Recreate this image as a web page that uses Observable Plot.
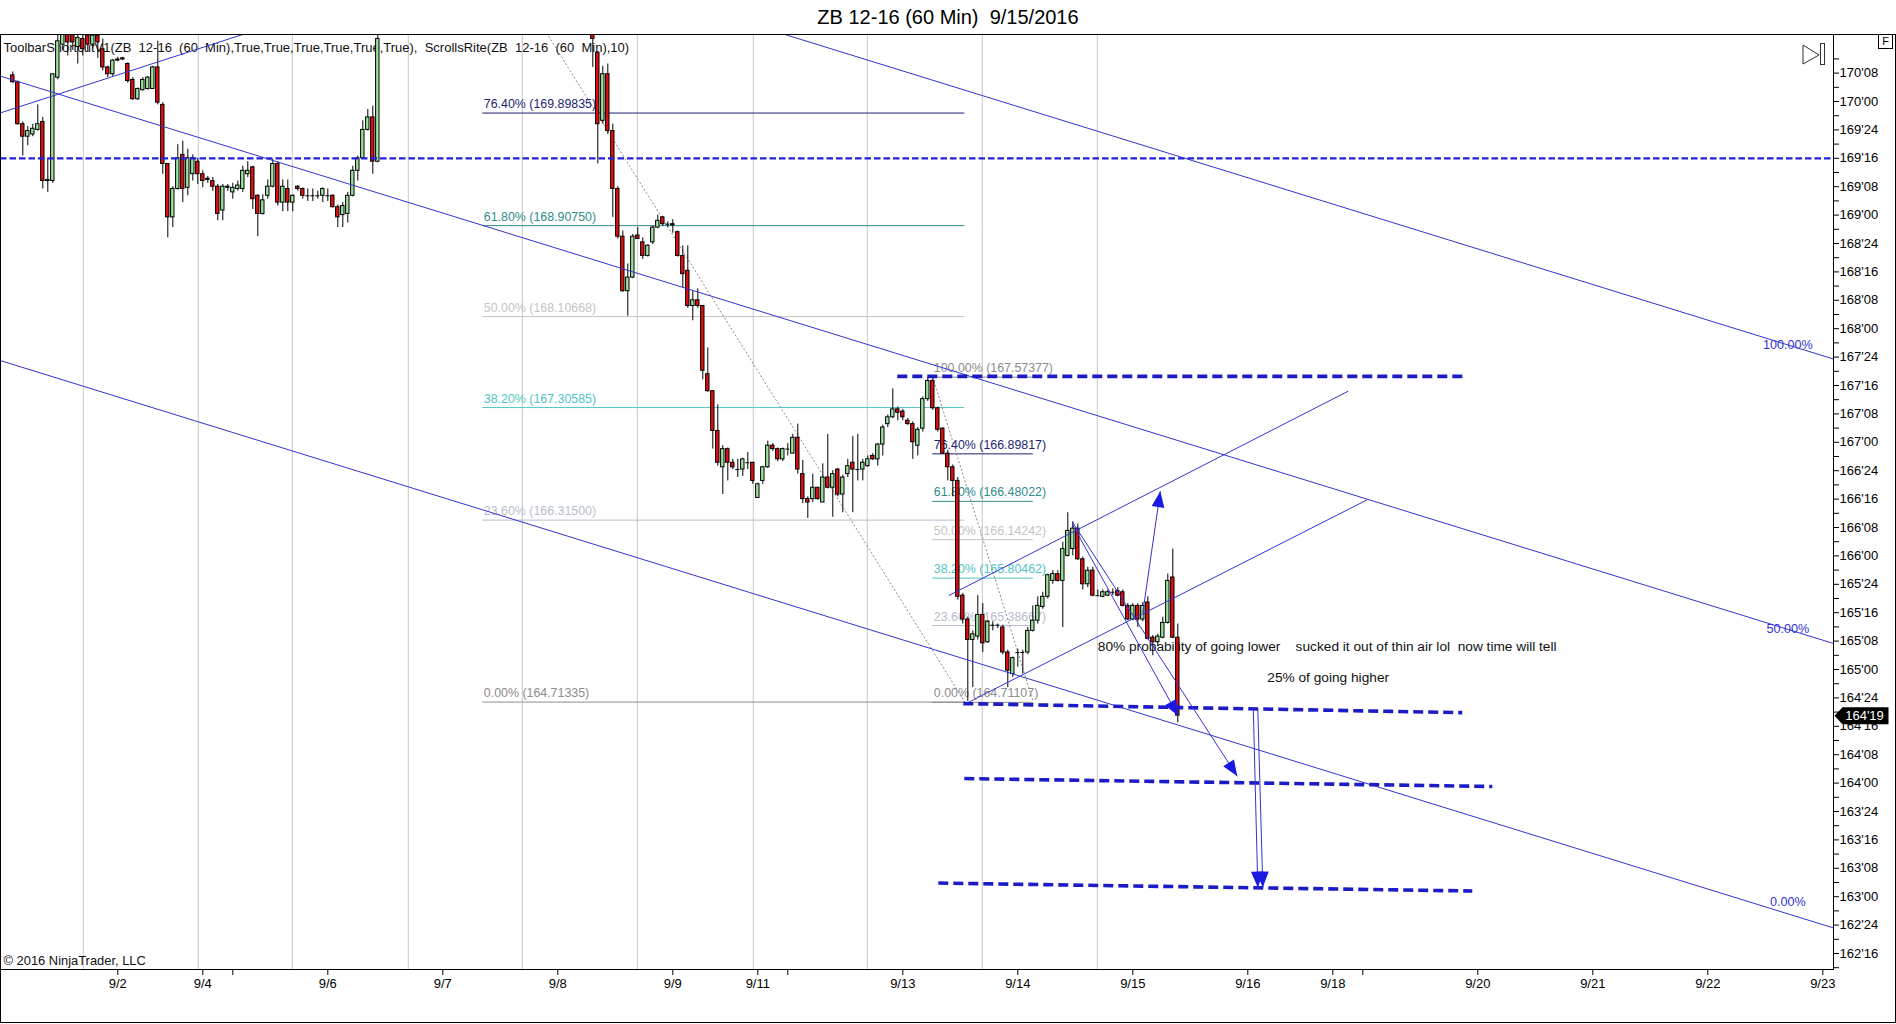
<!DOCTYPE html>
<html>
<head>
<meta charset="utf-8">
<script src="https://cdn.jsdelivr.net/npm/d3@7"></script>
<script src="https://cdn.jsdelivr.net/npm/@observablehq/plot@0.6"></script>
<style>
html, body { margin: 0; padding: 0; background: #fff; }
body { width: 1896px; height: 1024px; position: relative; overflow: hidden; font-family: "Liberation Sans", Arial, sans-serif; }
#title { position: absolute; left: 0; top: 0; width: 1896px; height: 33px; line-height: 34px; text-align: center; font-size: 20px; color: #000; white-space: pre; }
#chart { position: absolute; left: 0; top: 33px; }
#chart svg text { white-space: pre; }
#outer { position: absolute; left: 0; top: 34px; width: 1896px; height: 989px; border: 1px solid #000; box-sizing: border-box; pointer-events: none; }
#nav { position: absolute; left: 1800px; top: 42px; }
#fbox { position: absolute; left: 1878px; top: 34px; width: 15px; height: 15px; border: 1px solid #000; box-sizing: border-box; font-size: 11px; line-height: 13px; text-align: center; background: #fff; }
</style>
</head>
<body>
<div id="title">ZB 12-16 (60 Min)  9/15/2016</div>
<div id="chart"></div>
<div id="outer"></div>
<svg id="nav" width="28" height="26"><path d="M3,3 L19,13 L3,22 Z" fill="none" stroke="#333"/><rect x="20.5" y="1.5" width="4" height="21" fill="none" stroke="#333"/></svg>
<div id="fbox">F</div>
<script>
// ---- 60-minute bars, ZB 12-16 (bar number on the session axis) ----
const barIndex = [...d3.range(0, 74), ...d3.range(116, 234)];

const opens = [
  170.23, 170.17, 169.80, 169.69, 169.71, 169.75, 169.82, 169.30, 169.30, 170.21,
  170.50, 170.62, 170.60, 170.48, 170.55, 170.58, 170.50, 170.58, 170.46, 170.30,
  170.24, 170.37, 170.38, 170.33, 170.19, 170.02, 170.10, 170.11, 170.11, 170.30,
  169.97, 169.45, 168.98, 169.23, 169.53, 169.24, 169.36, 169.47, 169.36, 169.32,
  169.30, 169.25, 169.04, 169.24, 169.20, 169.23, 169.23, 169.36, 169.42, 169.17,
  169.01, 169.17, 169.25, 169.45, 169.11, 169.23, 169.11, 169.25, 169.23, 169.17,
  169.17, 169.17, 169.17, 169.17, 169.17, 169.07, 169.00, 169.01, 169.17, 169.39,
  169.50, 169.75, 169.86, 169.47,
  170.75, 170.43, 169.83, 170.24, 169.74, 169.23, 168.81, 168.33, 168.45, 168.82,
  168.76, 168.64, 168.76, 168.89, 168.98, 168.92, 168.92, 168.85, 168.64, 168.51,
  168.20, 168.25, 168.20, 167.60, 167.45, 167.10, 166.78, 166.94, 166.82, 166.76,
  166.76, 166.82, 166.82, 166.51, 166.66, 166.78, 166.97, 166.94, 166.85, 166.94,
  166.90, 167.04, 166.72, 166.50, 166.50, 166.60, 166.47, 166.69, 166.60, 166.76,
  166.54, 166.72, 166.82, 166.76, 166.76, 166.79, 166.88, 166.85, 166.98, 167.16,
  167.22, 167.29, 167.27, 167.19, 167.16, 166.97, 167.12, 167.38, 167.54, 167.30,
  167.12, 166.90, 166.78, 166.66, 165.65, 165.44, 165.26, 165.29, 165.48, 165.24,
  165.39, 165.39, 165.37, 165.15, 164.96, 165.15, 165.15, 165.15, 165.34, 165.43,
  165.55, 165.64, 165.78, 165.84, 165.78, 166.00, 166.06, 166.24, 165.97, 165.75,
  165.87, 165.65, 165.64, 165.65, 165.68, 165.69, 165.68, 165.56, 165.44, 165.56,
  165.44, 165.59, 165.28, 165.24, 165.28, 165.41, 165.81, 165.28
];
const highs = [
  170.26, 170.18, 169.82, 169.78, 169.80, 169.97, 169.86, 169.50, 170.24, 170.62,
  170.70, 170.70, 170.68, 170.64, 170.62, 170.66, 170.66, 170.66, 170.55, 170.31,
  170.37, 170.39, 170.39, 170.34, 170.21, 170.12, 170.21, 170.22, 170.31, 170.53,
  169.99, 169.45, 169.25, 169.62, 169.65, 169.58, 169.53, 169.50, 169.39, 169.34,
  169.33, 169.27, 169.27, 169.27, 169.28, 169.30, 169.43, 169.47, 169.43, 169.18,
  169.18, 169.31, 169.49, 169.47, 169.31, 169.31, 169.18, 169.26, 169.24, 169.23,
  169.23, 169.21, 169.24, 169.23, 169.18, 169.09, 169.11, 169.20, 169.43, 169.52,
  169.83, 169.93, 169.96, 170.62,
  170.80, 170.44, 170.31, 170.33, 169.80, 169.25, 168.86, 168.57, 168.83, 168.89,
  168.80, 168.74, 168.90, 169.00, 168.99, 168.94, 168.96, 168.86, 168.73, 168.73,
  168.33, 168.35, 168.20, 167.83, 167.45, 167.33, 166.97, 166.95, 166.85, 166.85,
  166.86, 166.91, 166.82, 166.64, 166.79, 167.01, 166.99, 166.95, 166.95, 166.99,
  167.07, 167.16, 166.84, 166.52, 166.72, 166.60, 166.81, 167.07, 166.75, 166.77,
  166.71, 166.85, 167.05, 167.07, 166.85, 166.88, 166.90, 166.99, 167.15, 167.24,
  167.47, 167.31, 167.29, 167.21, 167.18, 167.13, 167.40, 167.57, 167.56, 167.31,
  167.13, 166.93, 166.80, 166.69, 165.67, 165.46, 165.34, 165.65, 165.58, 165.43,
  165.42, 165.40, 165.39, 165.17, 165.11, 165.18, 165.17, 165.37, 165.56, 165.64,
  165.68, 165.84, 165.87, 165.87, 166.12, 166.38, 166.30, 166.28, 165.99, 165.90,
  165.90, 165.70, 165.70, 165.70, 165.71, 165.72, 165.70, 165.58, 165.58, 165.58,
  165.59, 165.64, 165.30, 165.31, 165.46, 165.84, 166.06, 165.40
];
const lows = [
  170.16, 169.79, 169.52, 169.61, 169.69, 169.74, 169.23, 169.20, 169.28, 170.19,
  170.45, 170.40, 170.45, 170.33, 170.40, 170.44, 170.46, 170.38, 170.27, 170.21,
  170.22, 170.35, 170.36, 170.16, 170.01, 170.01, 170.09, 170.10, 170.11, 169.97,
  169.36, 168.80, 168.89, 169.22, 169.11, 169.17, 169.30, 169.27, 169.24, 169.28,
  169.21, 168.95, 168.95, 169.21, 169.14, 169.21, 169.20, 169.33, 169.05, 168.81,
  169.00, 169.14, 169.24, 169.08, 169.03, 169.03, 169.03, 169.21, 169.14, 169.12,
  169.12, 169.14, 169.11, 169.12, 169.06, 168.89, 168.89, 168.93, 169.16, 169.30,
  169.49, 169.74, 169.36, 169.46,
  170.30, 169.45, 169.80, 169.71, 168.98, 168.79, 168.32, 168.11, 168.44, 168.79,
  168.61, 168.63, 168.74, 168.88, 168.90, 168.89, 168.84, 168.63, 168.36, 168.18,
  168.07, 168.18, 167.55, 167.44, 166.94, 166.79, 166.54, 166.66, 166.76, 166.69,
  166.70, 166.76, 166.63, 166.51, 166.63, 166.77, 166.92, 166.83, 166.83, 166.88,
  166.90, 166.72, 166.46, 166.33, 166.47, 166.49, 166.47, 166.59, 166.34, 166.52,
  166.38, 166.69, 166.38, 166.66, 166.66, 166.78, 166.84, 166.79, 166.88, 167.13,
  167.21, 167.19, 167.19, 167.15, 166.85, 166.88, 167.09, 167.36, 167.28, 167.09,
  166.90, 166.66, 166.52, 165.61, 165.40, 164.72, 164.84, 165.26, 165.15, 165.23,
  165.34, 165.36, 165.13, 164.84, 164.93, 165.02, 164.96, 165.13, 165.33, 165.40,
  165.53, 165.62, 165.75, 165.77, 165.37, 165.99, 166.00, 165.96, 165.70, 165.72,
  165.64, 165.64, 165.63, 165.64, 165.65, 165.64, 165.55, 165.43, 165.43, 165.37,
  165.42, 165.26, 165.12, 165.20, 165.27, 165.40, 165.27, 164.53
];
const closes = [
  170.17, 169.80, 169.69, 169.74, 169.76, 169.80, 169.30, 169.31, 170.24, 170.53,
  170.60, 170.52, 170.52, 170.56, 170.46, 170.50, 170.58, 170.52, 170.30, 170.24,
  170.36, 170.36, 170.37, 170.18, 170.02, 170.11, 170.19, 170.21, 170.30, 169.99,
  169.45, 168.98, 169.23, 169.50, 169.23, 169.50, 169.50, 169.36, 169.30, 169.31,
  169.25, 169.01, 169.25, 169.25, 169.24, 169.26, 169.39, 169.39, 169.14, 169.01,
  169.13, 169.25, 169.45, 169.11, 169.25, 169.11, 169.17, 169.23, 169.17, 169.17,
  169.17, 169.17, 169.23, 169.17, 169.07, 168.98, 169.08, 169.17, 169.39, 169.50,
  169.75, 169.86, 169.47, 170.55,
  170.55, 169.80, 170.24, 169.74, 169.23, 168.81, 168.33, 168.45, 168.81, 168.79,
  168.64, 168.73, 168.89, 168.95, 168.92, 168.92, 168.91, 168.64, 168.48, 168.20,
  168.25, 168.20, 167.63, 167.45, 167.10, 166.82, 166.94, 166.82, 166.78, 166.76,
  166.85, 166.82, 166.66, 166.63, 166.78, 166.97, 166.94, 166.85, 166.94, 166.94,
  167.04, 166.76, 166.50, 166.47, 166.60, 166.50, 166.69, 166.60, 166.72, 166.54,
  166.69, 166.79, 166.76, 166.76, 166.82, 166.85, 166.85, 166.98, 167.13, 167.22,
  167.29, 167.26, 167.22, 167.16, 167.00, 167.11, 167.38, 167.54, 167.30, 167.11,
  166.90, 166.78, 166.66, 165.64, 165.44, 165.26, 165.31, 165.48, 165.23, 165.42,
  165.39, 165.39, 165.15, 164.99, 165.10, 165.15, 165.15, 165.34, 165.43, 165.56,
  165.64, 165.83, 165.84, 165.78, 166.06, 166.22, 166.24, 165.97, 165.75, 165.87,
  165.65, 165.65, 165.68, 165.68, 165.68, 165.65, 165.56, 165.44, 165.56, 165.44,
  165.56, 165.27, 165.24, 165.29, 165.41, 165.78, 165.28, 164.59375
];

// ---- time axis ----
const xTickBars   = [21, 38, 44, 63, 86, 109, 132, 149, 155, 178, 201, 224, 247, 264, 270, 293, 316, 339, 362];
const xTickLabels = ["9/2", "9/4", "", "9/6", "9/7", "9/8", "9/9", "9/11", "", "9/13", "9/14", "9/15", "9/16", "9/18", "", "9/20", "9/21", "9/22", "9/23"];
const sessionBreaks = [14.1, 37.1, 55.9, 79.1, 101.9, 124.9, 148.1, 170.9, 193.9, 216.9];

// ---- Fibonacci retracements ----
const fibLeftPct    = [76.4, 61.8, 50, 38.2, 23.6, 0];
const fibLeftPrice  = [169.89835, 168.90750, 168.10668, 167.30585, 166.31500, 164.71335];
const fibLeftSpan   = [94, 190.4];
const fibLeftAnchor = [171.5, 164.71335];
const fibRightPct    = [100, 76.4, 61.8, 50, 38.2, 23.6, 0];
const fibRightPrice  = [167.57377, 166.89817, 166.48022, 166.14242, 165.80462, 165.38667, 164.71107];
const fibRightSpan   = [184, 204.1];
const fibColors = {"100": "#8c8c8c", "76.4": "#1e1e72", "61.8": "#2f8c8c", "50": "#c4c4c4", "38.2": "#52c6c6", "23.6": "#b6bdcb", "0": "#8c8c8c"};

// ---- regression channel (100% / 50% / 0%) ----
const channelPct = ["100.00%", "50.00%", "0.00%"];
const channelStart = [172.727, 170.223, 167.719];
const channelEnd   = [167.733, 165.229, 162.725];
const channelLabelLift = [0, 0, 12];   // px the label sits above its line

// ---- hand-drawn trend lines ----
const trendFromBar   = [-2.46, 187.2, 190.54];
const trendFromPrice = [169.90, 165.651, 164.698];
const trendToBar     = [49.5, 267.08, 270.88];
const trendToPrice   = [170.64, 167.450, 166.494];

// ---- target levels (thick dashed) ----
const levelFromBar   = [176.9, 190.1, 190.3, 185.1];
const levelFromPrice = [167.58, 164.70, 164.04, 163.12];
const levelToBar     = [290.1, 289.9, 295.9, 291.9];
const levelToPrice   = [167.58, 164.62, 163.97, 163.05];

// ---- arrows ----
const arrowFromBar   = [211.9, 211.9, 226.0, 248.1, 249.0];
const arrowFromPrice = [166.30, 166.28, 165.50, 164.65, 164.65];
const arrowToBar     = [244.9, 233.1, 229.5, 249.0, 250.0];
const arrowToPrice   = [164.06, 164.59, 166.57, 163.08, 163.08];

const notes = [
  {bar: 217.0, price: 165.205, text: "80% probability of going lower    sucked it out of thin air lol  now time will tell"},
  {bar: 250.9, price: 164.932, text: "25% of going higher"}
];
const indicatorLabel = "ToolbarShortcutV1(ZB  12-16  (60  Min),True,True,True,True,True,True),  ScrollsRite(ZB  12-16  (60  Min),10)";
const copyright = "\u00A9 2016 NinjaTrader, LLC";
const pivotLevel = 169.5;

// ---- layout ----
const W = 1896, H = 991;
const margin = {top: 1, right: 63, bottom: 55, left: 0};
const xDomain = [-2.46, 364.14];
const yDomain = [162.3592, 170.5898];

const fmt32 = p => {
  const whole = Math.floor(p + 1e-9);
  const t = Math.round((p - whole) * 32);
  return `${whole}'${String(t).padStart(2, "0")}`;
};

const candles = barIndex.map((k, i) => ({k, open: opens[i], high: highs[i], low: lows[i], close: closes[i]}));
const last = candles[candles.length - 1];

const fibLeft = fibLeftPct.map((p, i) => ({pct: p, price: fibLeftPrice[i], color: fibColors[String(p)]}));
const fibRight = fibRightPct.map((p, i) => ({pct: p, price: fibRightPrice[i], color: fibColors[String(p)]}));
const fibText = d => `${d.pct.toFixed(2)}% (${d.price.toFixed(5)})`;

const xs = Plot.scale({x: {domain: xDomain, range: [margin.left, W - margin.right]}});
const ys = Plot.scale({y: {domain: yDomain, range: [H - margin.bottom, margin.top]}});

const channel = channelPct.map((label, i) => ({label, x1: xDomain[0], y1: channelStart[i], x2: xDomain[1], y2: channelEnd[i]}));
const labelBar = 355;
const channelLabels = channel.map((c, i) => {
  const onLine = c.y1 + (labelBar - c.x1) / (c.x2 - c.x1) * (c.y2 - c.y1);
  return {label: c.label, x: labelBar, y: ys.invert(ys.apply(onLine) - channelLabelLift[i])};
});

const trends = trendFromBar.map((x, i) => ({x1: x, y1: trendFromPrice[i], x2: trendToBar[i], y2: trendToPrice[i]}));
const levels = levelFromBar.map((x, i) => ({x1: x, y1: levelFromPrice[i], x2: levelToBar[i], y2: levelToPrice[i]}));

const arrows = arrowFromBar.map((x, i) => {
  const a = {x1: x, y1: arrowFromPrice[i], x2: arrowToBar[i], y2: arrowToPrice[i]};
  const dx = xs.apply(a.x2) - xs.apply(a.x1);
  const dy = ys.apply(a.y2) - ys.apply(a.y1);
  a.angle = Math.atan2(dx, -dy) * 180 / Math.PI;
  return a;
});

// filled arrowhead, tip at the anchor point, pointing up before rotation
const arrowHead = {
  draw(context, size) {
    const r = Math.sqrt(size / Math.PI);
    context.moveTo(0, 0);
    context.lineTo(-0.8 * r, 2 * r);
    context.lineTo(0.8 * r, 2 * r);
    context.closePath();
  }
};
// price flag on the right axis
const priceFlag = {
  draw(context) {
    context.moveTo(1, 0);
    context.lineTo(9, -8.5);
    context.lineTo(55, -8.5);
    context.lineTo(55, 8.5);
    context.lineTo(9, 8.5);
    context.closePath();
  }
};

const yTicks = d3.range(162.5, 170.26, 0.25);
const yMinor = d3.range(162.375, 170.4, 0.25);
const xTickText = new Map(xTickBars.map((b, i) => [b, xTickLabels[i]]));

const blue = "#3434d2";
const dashBlue = "#1c1cc6";

const chart = Plot.plot({
  width: W,
  height: H,
  marginTop: margin.top,
  marginRight: margin.right,
  marginBottom: margin.bottom,
  marginLeft: margin.left,
  x: {domain: xDomain, axis: null},
  y: {domain: yDomain, axis: null},
  color: {type: "identity"},
  style: {fontFamily: "'Liberation Sans', Arial, sans-serif", fontSize: "12px", background: "#fff", color: "#000"},
  marks: [
    // session separators
    Plot.ruleX(sessionBreaks, {stroke: "#c8c8c8", strokeWidth: 1}),

    // Fibonacci levels and their diagonals
    Plot.ruleY(fibLeft, {y: "price", x1: fibLeftSpan[0], x2: fibLeftSpan[1], stroke: "color", clip: true}),
    Plot.ruleY(fibRight, {y: "price", x1: fibRightSpan[0], x2: fibRightSpan[1], stroke: "color", clip: true}),
    Plot.link([{x1: fibLeftSpan[0], y1: fibLeftAnchor[0], x2: fibLeftSpan[1], y2: fibLeftAnchor[1]},
               {x1: fibRightSpan[0], y1: fibRightPrice[0], x2: fibRightSpan[1], y2: fibRightPrice[fibRightPrice.length - 1]}],
      {x1: "x1", y1: "y1", x2: "x2", y2: "y2", stroke: "#7a7a7a", strokeWidth: 0.9, strokeDasharray: "2,2", clip: true}),
    Plot.text(fibLeft, {x: fibLeftSpan[0], y: "price", text: fibText, fill: "color", textAnchor: "start", lineAnchor: "bottom", dx: 1, dy: -5, fontSize: 12.4, clip: true}),
    Plot.text(fibRight, {x: fibRightSpan[0], y: "price", text: fibText, fill: "color", textAnchor: "start", lineAnchor: "bottom", dx: 1, dy: -5, fontSize: 12.4, clip: true}),

    // annotations
    Plot.text([indicatorLabel], {frameAnchor: "top-left", text: d => d, dx: 3, dy: 13, lineAnchor: "middle", textAnchor: "start", fontSize: 13, fill: "#111"}),
    Plot.text([copyright], {frameAnchor: "bottom-left", text: d => d, dx: 3, dy: -9, lineAnchor: "middle", textAnchor: "start", fontSize: 12.9, fill: "#111"}),
    Plot.text(notes, {x: "bar", y: "price", text: "text", textAnchor: "start", fontSize: 13.7, fill: "#111"}),

    // candles
    Plot.ruleX(candles, {x: "k", y1: "low", y2: "high", stroke: "#000", strokeWidth: 1, clip: true}),
    Plot.rect(candles.filter(d => d.open !== d.close), {
      x1: d => d.k - 0.34, x2: d => d.k + 0.34, y1: "open", y2: "close",
      fill: d => d.close > d.open ? "#9ee29e" : "#e10e0e", stroke: "#000", strokeWidth: 1, clip: true
    }),
    Plot.ruleY(candles.filter(d => d.open === d.close), {y: "open", x1: d => d.k - 0.4, x2: d => d.k + 0.4, stroke: "#000", clip: true}),

    // pivot, channel and trend lines
    Plot.ruleY([pivotLevel], {stroke: "#2222dd", strokeWidth: 2.2, strokeDasharray: "6.5,3", clip: true}),
    Plot.link(channel, {x1: "x1", y1: "y1", x2: "x2", y2: "y2", stroke: blue, strokeWidth: 1, clip: true}),
    Plot.link(trends, {x1: "x1", y1: "y1", x2: "x2", y2: "y2", stroke: blue, strokeWidth: 1, clip: true}),
    Plot.text(channelLabels, {x: "x", y: "y", text: "label", fill: blue, fontSize: 12.6, textAnchor: "middle"}),

    // target levels
    Plot.link(levels, {x1: "x1", y1: "y1", x2: "x2", y2: "y2", stroke: dashBlue, strokeWidth: 3.6, strokeDasharray: "10,5", clip: true}),

    // arrows
    Plot.link(arrows, {x1: "x1", y1: "y1", x2: "x2", y2: "y2", stroke: blue, strokeWidth: 1, clip: true}),
    Plot.dot(arrows, {x: "x2", y: "y2", symbol: arrowHead, r: 8, rotate: "angle", fill: "#1a1ae2", stroke: "none"}),

    // axes
    Plot.axisY(yTicks, {anchor: "right", tickSize: 5, tickPadding: 1, tickFormat: fmt32, fontSize: 13, label: null}),
    Plot.axisY(yMinor, {anchor: "right", tickSize: 5, tickFormat: () => "", label: null}),
    Plot.axisX(xTickBars, {anchor: "bottom", tickSize: 6, tickPadding: 3, tickFormat: d => xTickText.get(d) ?? "", fontSize: 13, label: null}),
    Plot.frame({stroke: "#000"}),

    // last price flag
    Plot.dot([last], {x: () => xDomain[1], y: "close", symbol: priceFlag, r: 8, fill: "#000", stroke: "none"}),
    Plot.text([last], {x: () => xDomain[1], y: "close", text: d => fmt32(d.close), dx: 31, fill: "#fff", fontSize: 13, textAnchor: "middle"})
  ]
});

document.getElementById("chart").appendChild(chart);
</script>
</body>
</html>
